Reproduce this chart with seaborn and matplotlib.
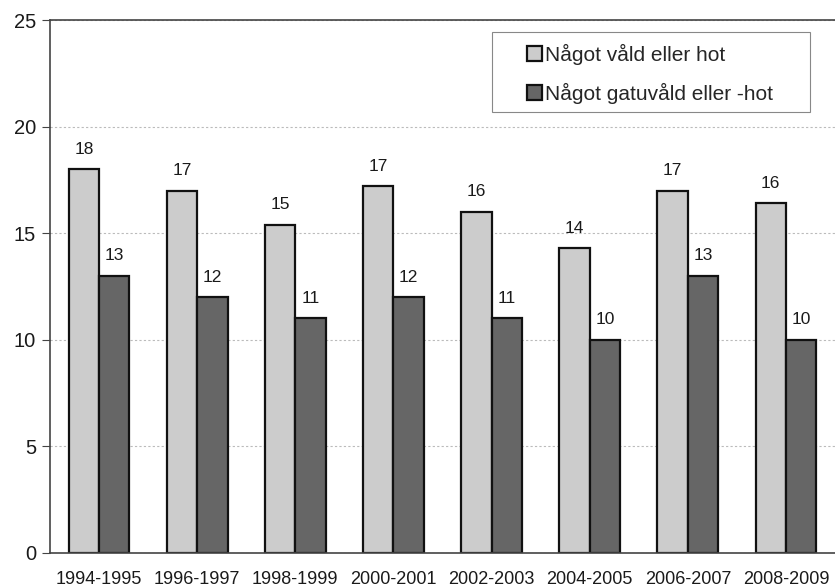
import matplotlib
matplotlib.use("Agg")
import matplotlib.pyplot as plt
import matplotlib.patches as mpatches
import seaborn as sns
import pandas as pd

# Data
periods = ["1994-1995", "1996-1997", "1998-1999", "2000-2001",
           "2002-2003", "2004-2005", "2006-2007", "2008-2009"]
any_violence = [18.0, 17.0, 15.4, 17.2, 16.0, 14.3, 17.0, 16.4]
street_violence = [13.0, 12.0, 11.0, 12.0, 11.0, 10.0, 13.0, 10.0]
series_names = ["Något våld eller hot", "Något gatuvåld eller -hot"]

df = pd.DataFrame({
    "period": periods * 2,
    "value": any_violence + street_violence,
    "serie": [series_names[0]] * len(periods) + [series_names[1]] * len(periods),
})

sns.set_style("white")
plt.rcParams["font.family"] = ["Liberation Sans", "DejaVu Sans"]

fig = plt.figure(figsize=(8.35, 5.87), dpi=100)
ax = fig.add_axes([50 / 835, 34 / 587, 1 - 50 / 835, 533 / 587])

sns.barplot(data=df, x="period", y="value", hue="serie",
            palette=["#cccccc", "#666666"], width=0.62,
            edgecolor="#111111", linewidth=1.6, ax=ax)

for cont in ax.containers:
    ax.bar_label(cont, labels=[f"{v:.0f}" for v in cont.datavalues],
                 padding=9, fontsize=12.5, color="#1a1a1a")

ax.set_ylim(0, 25)
ax.set_xlim(-0.5, 7.39)
ax.set_yticks([0, 5, 10, 15, 20, 25])
ax.yaxis.grid(True, linestyle=(0, (2, 2)), color="#bbbbbb", linewidth=0.8)
ax.set_axisbelow(True)
ax.set_xlabel("")
ax.set_ylabel("")

# ticks at group boundaries, labels at centers
ax.set_xticks(range(len(periods)))
ax.set_xticklabels(periods, fontsize=13, color="#1a1a1a")
ax.set_xticks([i + 0.5 for i in range(len(periods))], minor=True)
ax.tick_params(axis="x", which="major", length=0, pad=13)
ax.tick_params(axis="x", which="minor", length=6, color="#444444", width=0.8)
ax.tick_params(axis="y", length=6, color="#444444", labelsize=14.5,
               labelcolor="#1a1a1a", pad=4, left=True, width=0.8)

for side in ["left", "top", "bottom"]:
    ax.spines[side].set_color("#444444")
    ax.spines[side].set_linewidth(1.2)
ax.spines["right"].set_visible(False)

# legend with a hand-placed frame (wider padding than matplotlib's)
ax.legend(loc="upper left", bbox_to_anchor=(0.6076, 0.956), fontsize=15,
          frameon=False, handlelength=0.72, handleheight=0.72,
          handletextpad=0.15, labelspacing=0.87, borderpad=0,
          borderaxespad=0)
frame = mpatches.Rectangle((0.563, 0.827), 0.405, 0.150,
                           transform=ax.transAxes, facecolor="white",
                           edgecolor="#888888", linewidth=0.8, zorder=4)
ax.add_patch(frame)
ax.get_legend().set_zorder(5)

fig.savefig("out.png", dpi=100)
